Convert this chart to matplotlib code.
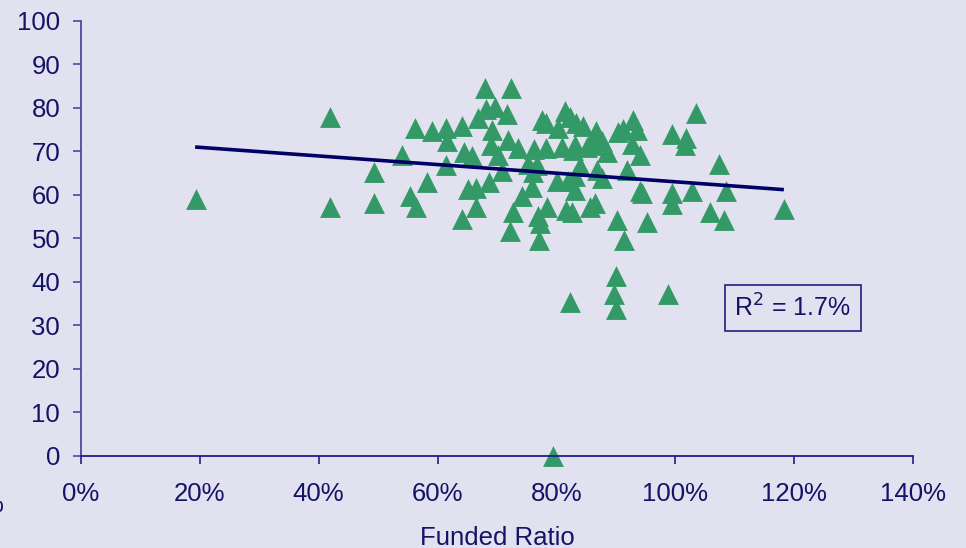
import matplotlib.pyplot as plt
from matplotlib.ticker import FuncFormatter

# funded ratio (%) and score for each plan
funded_ratio = [19.4, 41.9, 41.9, 49.3, 49.3, 54.0, 55.4, 56.4, 56.2, 59.1,
                61.4, 61.6, 61.4, 58.2, 64.1, 64.4, 65.8, 65.1, 66.5, 66.5,
                64.1, 68.0, 72.4, 68.1, 69.7, 71.7, 66.8, 69.2, 69.0, 71.8,
                73.5, 70.2, 70.8, 68.7, 74.2, 75.9, 72.7, 72.2, 77.1, 76.9,
                77.2, 78.4, 81.6, 85.6, 86.5, 90.2, 91.4, 77.6, 78.2, 81.4,
                80.3, 84.5, 86.7, 87.7, 90.4, 76.2, 78.2, 80.9, 82.8, 85.1,
                75.2, 76.7, 84.0, 86.8, 76.1, 80.1, 81.9, 87.7, 82.3, 86.2,
                88.5, 83.1, 91.2, 92.9, 93.6, 92.7, 94.1, 99.4, 101.8, 101.6,
                103.5, 91.9, 83.1, 83.1, 94.1, 94.4, 99.4, 99.4, 102.8, 82.6,
                95.2, 105.8, 107.4, 108.5, 108.2, 118.3, 90.0, 89.7, 90.0, 82.3,
                98.8, 79.4, 83.3]
score = [59.1, 77.9, 57.2, 65.3, 58.2, 69.2, 59.8, 57.2, 75.4, 74.7,
         75.4, 72.4, 66.9, 63.0, 75.9, 69.9, 69.0, 61.4, 61.6, 57.2,
         54.5, 84.6, 84.6, 79.8, 80.2, 78.6, 77.7, 74.9, 71.5, 72.6,
         70.8, 69.2, 65.5, 63.0, 59.8, 61.8, 56.1, 51.7, 49.7, 55.2,
         53.6, 57.2, 56.6, 57.2, 58.2, 54.3, 49.7, 77.2, 76.6, 79.3,
         75.4, 75.9, 74.7, 72.4, 74.5, 70.6, 70.8, 71.0, 70.3, 71.0,
         67.1, 66.9, 66.7, 65.7, 65.3, 63.2, 63.2, 63.9, 77.9, 71.5,
         69.9, 71.5, 75.2, 77.2, 74.9, 71.7, 69.2, 74.0, 73.1, 71.5,
         78.9, 65.7, 64.4, 61.1, 60.9, 60.5, 60.5, 57.9, 60.9, 56.1,
         53.8, 56.1, 67.1, 60.9, 54.3, 56.8, 41.4, 37.2, 33.8, 35.4,
         37.2, 0.0, 76.6]

trend_x = [19.2, 118.3]
trend_y = [71.0, 61.2]
r_squared = 1.7

bg = '#e1e1f0'
navy = '#141466'
green = '#339966'

plt.rcParams['font.family'] = ['Liberation Sans', 'DejaVu Sans']

fig = plt.figure(figsize=(9.66, 5.48), dpi=100, facecolor=bg)
ax = fig.add_axes([0.0839, 0.168, 0.861, 0.794], facecolor=bg)

ax.scatter(funded_ratio, score, marker='^', s=225, color=green,
           linewidths=0, zorder=2, clip_on=False)
ax.plot(trend_x, trend_y, color='#000066', lw=2.6, zorder=3,
        solid_capstyle='butt')

ax.set_xlim(0, 140)
ax.set_ylim(0, 100)
ax.set_xticks(range(0, 141, 20))
ax.set_yticks(range(0, 101, 10))
ax.xaxis.set_major_formatter(FuncFormatter(lambda v, p: '%d%%' % v))

for side in ['top', 'right']:
    ax.spines[side].set_visible(False)
ax.spines['left'].set_color('#4a4a9c')
ax.spines['bottom'].set_color('#1e1e8c')
for side in ['left', 'bottom']:
    ax.spines[side].set_linewidth(1.3)

ax.tick_params(axis='y', direction='out', length=6, width=1.2,
               color='#4a4a9c', labelcolor=navy, labelsize=18.5, pad=9)
ax.tick_params(axis='x', direction='out', length=6, width=1.2,
               color='#1e1e8c', labelcolor=navy, labelsize=18.5, pad=13)

ax.set_xlabel('Funded Ratio', fontsize=18.5, color=navy, labelpad=14)

ax.text(119.8, 34.0, 'R$^2$ = %.1f%%' % r_squared, fontsize=18, color=navy,
        ha='center', va='center',
        bbox=dict(boxstyle='square,pad=0.38', facecolor=bg,
                  edgecolor='#202080', linewidth=1.2))

# axis title spilling past the left edge
fig.text(-0.009, 0.078, '%', fontsize=18.5, color=navy,
         ha='center', va='center')

fig.savefig('out.png', dpi=100, facecolor=bg)
